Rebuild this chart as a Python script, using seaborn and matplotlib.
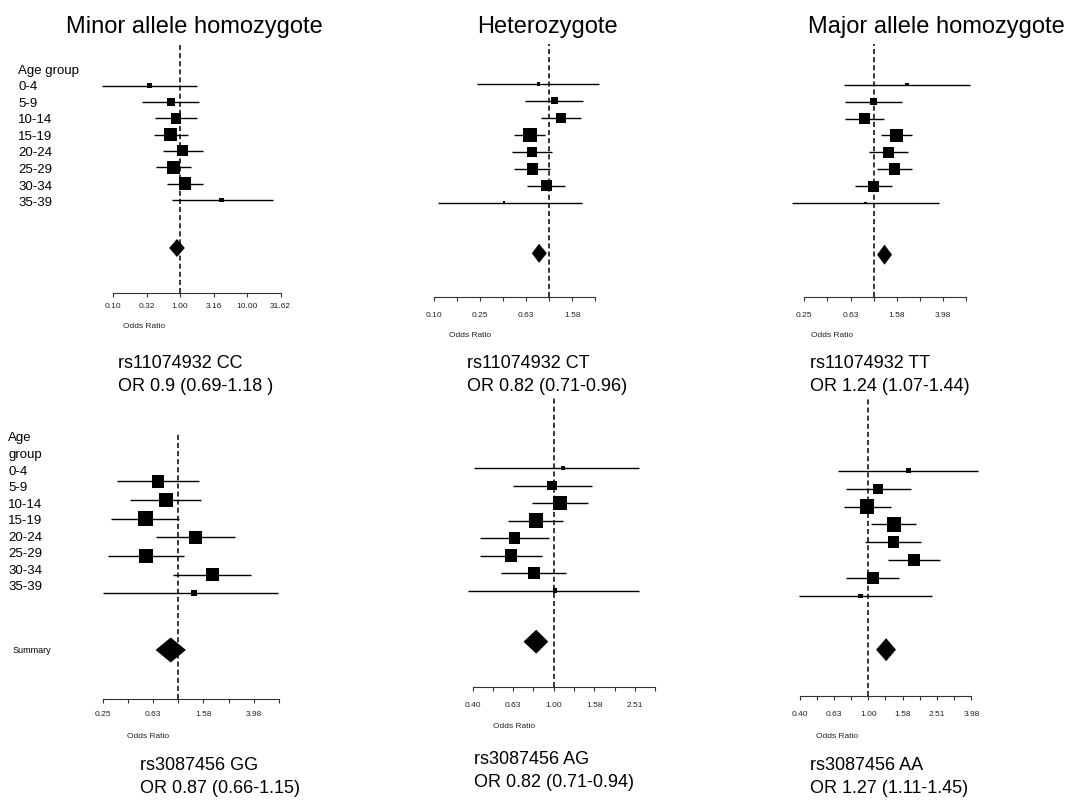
import numpy as np
import matplotlib
matplotlib.use("Agg")
import matplotlib.pyplot as plt
import seaborn as sns
from matplotlib.ticker import NullLocator

# ---------------- data ----------------
AGE_GROUPS = ["0-4", "5-9", "10-14", "15-19", "20-24", "25-29", "30-34", "35-39"]

TITLES = ["Minor allele homozygote", "Heterozygote", "Major allele homozygote"]

# rs11074932 CC
CC_OR = [0.35, 0.73, 0.87, 0.73, 1.10, 0.79, 1.19, 4.19]
CC_LO = [0.068, 0.27, 0.43, 0.41, 0.55, 0.44, 0.63, 0.75]
CC_HI = [1.77, 1.94, 1.77, 1.33, 2.18, 1.46, 2.23, 24.2]
CC_SUM = [0.90, 0.69, 1.18]
# rs11074932 CT
CT_OR = [0.81, 1.11, 1.27, 0.685, 0.713, 0.717, 0.955, 0.408]
CT_LO = [0.238, 0.616, 0.859, 0.501, 0.478, 0.501, 0.641, 0.109]
CT_HI = [2.73, 1.98, 1.89, 0.93, 1.06, 1.02, 1.38, 1.92]
CT_SUM = [0.82, 0.71, 0.96]
# rs11074932 TT
TT_OR = [1.94, 1.00, 0.83, 1.58, 1.35, 1.51, 0.99, 0.853]
TT_LO = [0.55, 0.569, 0.569, 1.15, 0.917, 1.06, 0.69, 0.197]
TT_HI = [6.8, 1.77, 1.22, 2.14, 1.98, 2.14, 1.45, 3.7]
TT_SUM = [1.24, 1.07, 1.44]
# rs3087456 GG
GG_OR = [np.nan, 0.689, 0.798, 0.551, 1.38, 0.553, 1.88, 1.33]
GG_LO = [np.nan, 0.324, 0.415, 0.292, 0.668, 0.274, 0.912, 0.25]
GG_HI = [np.nan, 1.47, 1.52, 1.02, 2.84, 1.11, 3.77, 6.2]
GG_SUM = [0.87, 0.66, 1.15]
# rs3087456 AG
AG_OR = [1.11, 0.985, 1.07, 0.818, 0.643, 0.616, 0.80, 1.015]
AG_LO = [0.405, 0.631, 0.782, 0.598, 0.435, 0.432, 0.552, 0.377]
AG_HI = [2.63, 1.55, 1.48, 1.116, 0.948, 0.876, 1.15, 2.63]
AG_SUM = [0.82, 0.71, 0.94]
# rs3087456 AA
AA_OR = [1.72, 1.14, 0.987, 1.41, 1.40, 1.85, 1.06, 0.902]
AA_LO = [0.666, 0.738, 0.725, 1.03, 0.96, 1.31, 0.738, 0.396]
AA_HI = [4.35, 1.77, 1.35, 1.90, 2.02, 2.63, 1.51, 2.34]
AA_SUM = [1.27, 1.11, 1.45]

CC_TICKS = ["0.10", "0.32", "1.00", "3.16", "10.00", "31.62"]
CT_TICKS = ["0.10", "", "0.25", "", "0.63", "", "1.58", ""]
TT_TICKS = ["0.25", "", "0.63", "", "1.58", "", "3.98", ""]
GG_TICKS = ["0.25", "", "0.63", "", "1.58", "", "3.98", ""]
AG_TICKS = ["0.40", "", "0.63", "", "1.00", "", "1.58", "", "2.51", ""]
AA_TICKS = ["0.40", "", "0.63", "", "1.00", "", "1.58", "", "2.51", "", "3.98"]

SNP_LABELS = ["rs11074932 CC", "rs11074932 CT", "rs11074932 TT",
              "rs3087456 GG", "rs3087456 AG", "rs3087456 AA"]
OR_LABELS = ["OR 0.9 (0.69-1.18 )", "OR 0.82 (0.71-0.96)", "OR 1.24 (1.07-1.44)",
             "OR 0.87 (0.66-1.15)", "OR 0.82 (0.71-0.94)", "OR 1.27 (1.11-1.45)"]

# ---------------- layout (pixels) ----------------
W, H = 1069, 803
PANELS = [
    dict(d=(CC_OR, CC_LO, CC_HI, CC_SUM), ticks=CC_TICKS, dec=(-1.0, 0.5),
         left=85, right=300, top=45, axis=294, or1=180, ppd=67,
         row0=86.7, step=16.3, summ=249, box=13, dia=18, tlab=307,
         xr=(144, 327), sub=(118, 368)),
    dict(d=(CT_OR, CT_LO, CT_HI, CT_SUM), ticks=CT_TICKS, dec=(-1.0, 0.2),
         left=420, right=640, top=45, axis=297.7, or1=549, ppd=115.5,
         row0=85, step=16.95, summ=254.3, box=13.3, dia=19, tlab=316,
         xr=(470, 336), sub=(467, 368)),
    dict(d=(TT_OR, TT_LO, TT_HI, TT_SUM), ticks=TT_TICKS, dec=(-0.6, 0.2),
         left=770, right=1000, top=45, axis=298.3, or1=873.7, ppd=115.7,
         row0=85.7, step=16.9, summ=255.7, box=13.3, dia=20, tlab=316.7,
         xr=(832, 336), sub=(810, 368)),
    dict(d=(GG_OR, GG_LO, GG_HI, GG_SUM), ticks=GG_TICKS, dec=(-0.6, 0.2),
         left=85, right=300, top=435, axis=700, or1=178.3, ppd=125.7,
         row0=463.7, step=18.67, summ=651, box=15, dia=25, tlab=715,
         xr=(148, 737), sub=(140, 770)),
    dict(d=(AG_OR, AG_LO, AG_HI, AG_SUM), ticks=AG_TICKS, dec=(-0.4, 0.1),
         left=440, right=680, top=398, axis=687.7, or1=553.7, ppd=203,
         row0=469, step=17.5, summ=642.7, box=14.3, dia=24, tlab=706,
         xr=(514, 727), sub=(474, 764)),
    dict(d=(AA_OR, AA_LO, AA_HI, AA_SUM), ticks=AA_TICKS, dec=(-0.4, 0.1),
         left=770, right=1000, top=398, axis=696.7, or1=868.3, ppd=171.7,
         row0=471.7, step=17.9, summ=650.7, box=14.3, dia=23, tlab=715,
         xr=(837, 737), sub=(810, 770)),
]

sns.set_theme(style="white")
plt.rcParams["font.family"] = ["Liberation Sans", "DejaVu Sans"]
plt.rcParams["text.color"] = "black"

fig = plt.figure(figsize=(W / 100, H / 100), dpi=100)
fig.patch.set_facecolor("white")


def fx(x):
    return x / W


def fy(y):
    return 1 - y / H


for i, p in enumerate(PANELS):
    ors, los, his, summ = p["d"]
    ors = np.asarray(ors, float)
    los = np.asarray(los, float)
    his = np.asarray(his, float)
    rows = np.arange(len(AGE_GROUPS), dtype=float)

    ax = fig.add_axes([fx(p["left"]), fy(p["axis"]),
                       (p["right"] - p["left"]) / W, (p["axis"] - p["top"]) / H])
    ax.set_facecolor("none")
    ax.set_xscale("log")
    xmin = 10 ** ((p["left"] - p["or1"]) / p["ppd"])
    xmax = 10 ** ((p["right"] - p["or1"]) / p["ppd"])
    ax.set_xlim(xmin, xmax)
    ybot = (p["axis"] - p["row0"]) / p["step"]
    ytop = (p["top"] - p["row0"]) / p["step"]
    ax.set_ylim(ybot, ytop)

    # reference line at OR = 1
    ax.axvline(1.0, color="black", lw=1.1, dashes=(3.3, 2.0), zorder=1)

    ok = ~np.isnan(ors)
    # confidence intervals
    ax.hlines(rows[ok], los[ok], his[ok], color="black", lw=1.0, zorder=2)
    # boxes sized by precision
    logw = np.log10(his[ok]) - np.log10(los[ok])
    side_px = p["box"] * logw.min() / logw
    sns.scatterplot(x=ors[ok], y=rows[ok], s=(side_px * 0.72) ** 2, marker="s",
                    color="black", edgecolor="none", linewidth=0, legend=False,
                    ax=ax, zorder=3)

    # summary diamond
    sy = (p["summ"] - p["row0"]) / p["step"]
    hh = p["dia"] / 2 / p["step"]
    s_or, s_lo, s_hi = summ
    ax.fill([s_lo, s_or, s_hi, s_or], [sy, sy - hh, sy, sy + hh],
            color="black", lw=0, zorder=3)

    # axis
    d0, dstep = p["dec"]
    n = len(p["ticks"])
    tick_pos = 10 ** (d0 + dstep * np.arange(n))
    ax.set_xticks(tick_pos)
    ax.set_xticklabels(p["ticks"])
    ax.xaxis.set_minor_locator(NullLocator())
    ax.set_yticks([])
    for sp in ["top", "left", "right"]:
        ax.spines[sp].set_visible(False)
    ax.spines["bottom"].set_bounds(tick_pos[0], tick_pos[-1])
    ax.spines["bottom"].set_color("#333333")
    ax.spines["bottom"].set_linewidth(0.8)
    pad_px = (p["tlab"] - p["axis"]) - 4 - 4.5
    ax.tick_params(axis="x", bottom=True, direction="out", length=3, width=0.8,
                   color="#333333", labelsize=6, labelcolor="#222222",
                   pad=pad_px * 0.72)
    ax.set_xlabel("")
    ax.set_ylabel("")

    fig.text(fx(p["xr"][0]), fy(p["xr"][1]), "Odds Ratio", fontsize=6,
             color="#222222", ha="center", va="center")
    sx, sby = p["sub"]
    fig.text(fx(sx), fy(sby), SNP_LABELS[i], fontsize=13, ha="left", va="baseline")
    fig.text(fx(sx), fy(sby + 23), OR_LABELS[i], fontsize=13, ha="left", va="baseline")

# column titles
for t, cx in zip(TITLES, [194, 547, 936]):
    fig.text(fx(cx), fy(33), t, fontsize=17, ha="center", va="baseline")

# age-group labels (top-left panel)
fig.text(fx(18.3), fy(71), "Age group", fontsize=9.5, ha="left", va="center")
for k, g in enumerate(AGE_GROUPS):
    fig.text(fx(18.3), fy(87 + k * 16.6), g, fontsize=9.5, ha="left", va="center")

# age-group labels (bottom-left panel)
fig.text(fx(8.3), fy(438), "Age", fontsize=9.5, ha="left", va="center")
fig.text(fx(8.3), fy(455), "group", fontsize=9.5, ha="left", va="center")
for k, g in enumerate(AGE_GROUPS):
    fig.text(fx(8.3), fy(471.7 + k * 16.5), g, fontsize=9.5, ha="left", va="center")
fig.text(fx(31.7), fy(651), "Summary", fontsize=6.5, ha="center", va="center")

fig.savefig("out.png", dpi=100, facecolor="white")
